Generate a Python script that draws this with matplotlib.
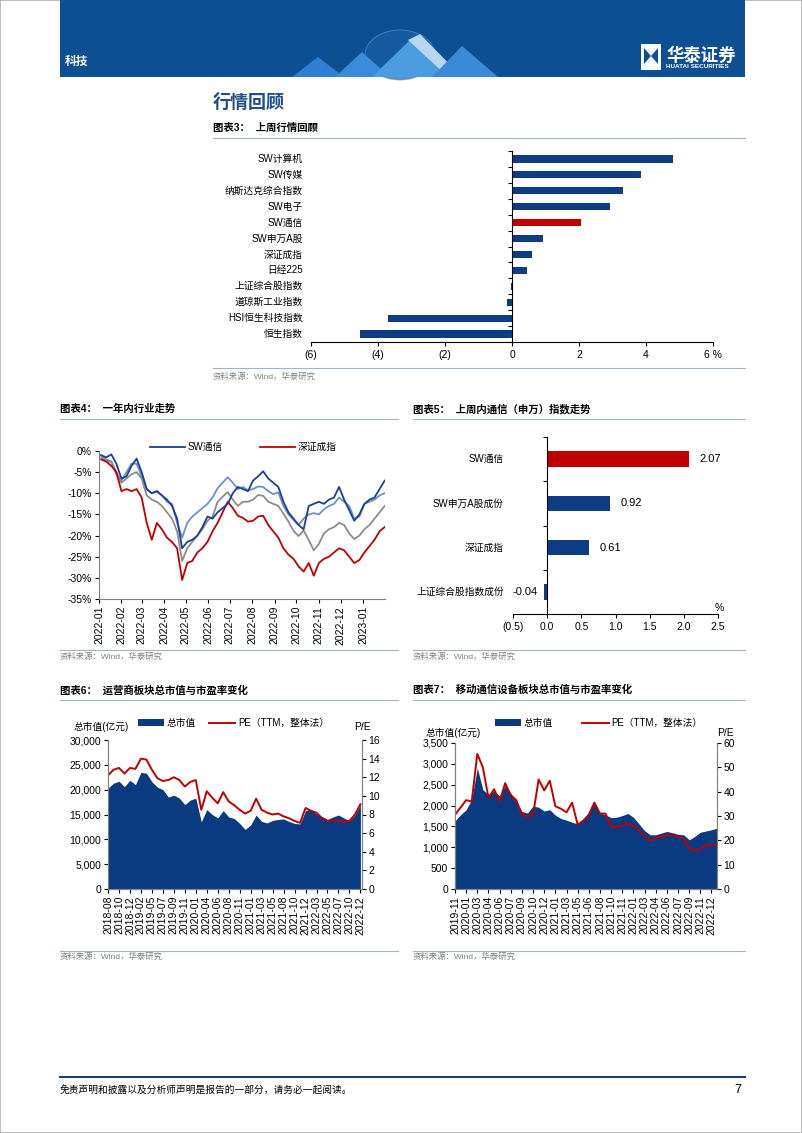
import numpy as np
import pandas as pd
import matplotlib
matplotlib.use('Agg')
import matplotlib.pyplot as plt
import matplotlib.dates as mdates
from matplotlib.patches import Rectangle, Polygon, Ellipse, Patch
from matplotlib.lines import Line2D
from matplotlib.ticker import FuncFormatter

plt.rcParams['font.family'] = ['Liberation Sans', 'Noto Sans CJK SC']
plt.rcParams['axes.unicode_minus'] = False

# ---------------- data ----------------
# chart 3: last week review (%)
c3_names = ['SW计算机', 'SW传媒', '纳斯达克综合指数', 'SW电子', 'SW通信', 'SW申万A股',
            '深证成指', '日经225', '上证综合股指数', '道琼斯工业指数', 'HSI恒生科技指数', '恒生指数']
c3_values = [4.82, 3.86, 3.32, 2.94, 2.07, 0.92, 0.61, 0.46, -0.04, -0.14, -3.71, -4.53]

# chart 4: one-year trend, weekly (%)
c4_dates = pd.date_range('2022-01-04', periods=57, freq='7D')
c4_swtx = [-1.0, -1.5, -0.8, -3.0, -6.5, -6.0, -3.5, -1.8, -5.0, -9.0,
           -10.0, -9.5, -10.5, -11.5, -13.0, -16.0, -23.0, -21.5, -21.0, -20.0,
           -18.0, -15.5, -16.0, -14.5, -13.5, -12.5, -10.0, -8.5, -9.0, -9.5,
           -7.0, -6.0, -4.8, -6.5, -7.5, -8.5, -12.0, -14.5, -16.0, -17.5,
           -18.5, -13.0, -12.5, -12.0, -12.5, -11.5, -11.0, -8.5, -11.5, -14.0,
           -16.5, -15.0, -12.5, -11.5, -11.0, -9.0, -7.0]
c4_light = [-1.0, -2.0, -2.5, -5.5, -7.0, -5.0, -3.0, -3.0, -6.0, -9.0,
            -10.0, -9.5, -10.5, -12.0, -12.5, -17.0, -20.5, -17.0, -15.5, -14.5,
            -13.5, -12.5, -11.0, -8.8, -7.5, -6.2, -7.5, -9.0, -8.5, -9.3,
            -9.0, -8.4, -8.5, -9.5, -10.2, -9.8, -13.0, -15.0, -16.3, -17.5,
            -16.0, -15.0, -14.7, -15.0, -13.8, -13.0, -12.5, -11.0, -12.0, -13.0,
            -16.0, -15.5, -12.5, -12.0, -11.5, -10.5, -10.0]
c4_gray = [-1.5, -2.5, -2.5, -5.0, -7.5, -6.5, -5.5, -5.0, -6.5, -10.5,
           -11.5, -12.0, -13.0, -14.5, -16.0, -19.0, -26.0, -23.0, -21.5, -20.0,
           -18.5, -16.5, -15.5, -12.0, -10.8, -9.7, -11.5, -13.0, -12.0, -12.0,
           -11.5, -10.4, -10.6, -12.0, -12.5, -13.0, -14.8, -16.7, -18.9, -20.1,
           -18.8, -21.0, -23.5, -22.0, -19.5, -18.5, -18.0, -17.0, -17.5, -19.5,
           -20.8, -20.0, -18.5, -17.5, -16.0, -14.5, -13.0]
c4_szcz = [-2.0, -2.5, -3.5, -5.0, -9.5, -9.0, -9.5, -9.0, -11.0, -17.0,
           -21.0, -17.0, -18.5, -20.5, -21.5, -23.0, -30.5, -26.5, -26.0, -24.0,
           -23.0, -21.5, -19.0, -17.0, -14.5, -12.0, -13.5, -15.3, -15.8, -16.7,
           -16.5, -15.5, -15.3, -17.5, -19.0, -20.5, -23.0, -24.5, -25.5, -27.3,
           -28.5, -26.5, -29.5, -26.5, -25.5, -25.0, -24.0, -23.0, -23.5, -25.0,
           -26.5, -25.8, -24.0, -22.5, -21.0, -19.0, -18.0]

# chart 5: SW telecom last week (%)
c5_names = ['SW通信', 'SW申万A股成份', '深证成指', '上证综合股指数成份']
c5_values = [2.07, 0.92, 0.61, -0.04]

# chart 6: operators, market cap (100m CNY) and PE, sampled every half label step
c6_ticks = ['2018-08', '2018-10', '2018-12', '2019-02', '2019-05', '2019-07', '2019-09', '2019-11',
            '2020-01', '2020-04', '2020-06', '2020-08', '2020-11', '2021-01', '2021-03', '2021-05',
            '2021-08', '2021-10', '2021-12', '2022-03', '2022-05', '2022-07', '2022-10', '2022-12']
c6_mv = [20300, 21300, 21700, 20600, 21900, 21000, 23500, 23300, 21600, 20500,
         20000, 18500, 18900, 18300, 17000, 17900, 18300, 13500, 16000, 15000,
         14300, 15800, 14500, 14200, 13200, 12000, 12900, 14900, 13600, 13300,
         13800, 14000, 14100, 13600, 13200, 13100, 15800, 16000, 15100, 14600,
         14000, 14500, 14900, 14300, 13700, 14900, 17000]
c6_pe = [12.2, 12.8, 13.0, 12.4, 13.0, 12.9, 14.0, 13.9, 12.8, 11.9,
         11.6, 11.7, 12.0, 11.7, 11.0, 11.5, 11.7, 8.5, 10.5, 9.8,
         9.2, 10.4, 9.4, 9.0, 8.5, 8.1, 8.4, 9.7, 8.5, 8.2,
         8.0, 8.1, 7.8, 7.6, 7.3, 7.1, 8.7, 8.4, 8.2, 7.6,
         7.3, 7.4, 7.3, 7.2, 7.3, 8.0, 9.1]

# chart 7: mobile telecom equipment, market cap and PE
c7_ticks = ['2019-11', '2020-01', '2020-03', '2020-04', '2020-06', '2020-07', '2020-09', '2020-10',
            '2020-12', '2021-01', '2021-03', '2021-05', '2021-06', '2021-08', '2021-10', '2021-11',
            '2022-01', '2022-03', '2022-04', '2022-06', '2022-07', '2022-09', '2022-11', '2022-12']
c7_mv = [1630, 1780, 1900, 2150, 2900, 2380, 2270, 2350, 2230, 2480,
         2300, 2100, 1860, 1820, 1990, 1960, 1870, 1900, 1770, 1690,
         1650, 1600, 1560, 1680, 1840, 2080, 1820, 1780, 1710, 1720,
         1760, 1810, 1720, 1560, 1400, 1300, 1300, 1340, 1380, 1350,
         1310, 1300, 1180, 1260, 1360, 1390, 1420, 1460]
c7_pe = [30.5, 33.5, 36.5, 36.0, 55.5, 50.0, 37.5, 41.0, 36.0, 43.5,
         38.5, 36.5, 30.5, 29.8, 30.5, 45.0, 40.5, 44.5, 34.0, 33.0,
         31.5, 35.5, 26.5, 28.0, 30.5, 35.5, 31.0, 31.0, 25.5, 25.5,
         26.0, 27.0, 26.0, 24.0, 22.0, 19.8, 20.8, 21.6, 22.2, 22.0,
         21.5, 20.8, 16.5, 15.8, 16.5, 17.8, 18.2, 18.4]

NAVY = '#0d3c85'
RED = '#c00000'
LINE = '#9fb3cc'
GREY_TXT = '#808080'

W, H = 802, 1133
fig = plt.figure(figsize=(W / 100, H / 100), dpi=100)


def box(x0, y0, x1, y1):
    return [x0 / W, 1 - y1 / H, (x1 - x0) / W, (y1 - y0) / H]


def ftext(x, y, s, **kw):
    kw.setdefault('va', 'center')
    fig.text(x / W, 1 - y / H, s, **kw)


def hline(x0, x1, y, color=LINE, lw=0.8):
    fig.add_artist(Line2D([x0 / W, x1 / W], [1 - y / H, 1 - y / H], color=color, lw=lw,
                          transform=fig.transFigure))


def fpoly(pts, **kw):
    fig.add_artist(Polygon([(x / W, 1 - y / H) for x, y in pts], closed=True,
                           transform=fig.transFigure, **kw))


# ---------------- page decoration ----------------
fig.add_artist(Rectangle((0, 0), 1, 1, transform=fig.transFigure, fill=False,
                         edgecolor='#b0b0b0', lw=1.2))
fig.add_artist(Rectangle((60 / W, 1 - 77 / H), 685 / W, 77 / H, transform=fig.transFigure,
                         facecolor='#0c4f93', edgecolor='none'))
fig.add_artist(Ellipse((400 / W, 1 - 55 / H), 70 / W, 50 / H, transform=fig.transFigure,
                       facecolor='#1b5fa6', edgecolor='#5d9ad6', lw=0.6, alpha=0.7))
fpoly([(292, 77), (318, 57), (344, 77)], facecolor='#2f80d0', edgecolor='none')
fpoly([(335, 77), (362, 52), (390, 77)], facecolor='#3b8cd8', edgecolor='none')
fpoly([(372, 77), (410, 40), (448, 77)], facecolor='#4c9ce0', edgecolor='none')
fpoly([(408, 40), (420, 34), (462, 77), (448, 77)], facecolor='#b8d6f2', edgecolor='none')
fpoly([(432, 77), (462, 46), (498, 77)], facecolor='#3a8ad6', edgecolor='none')
ftext(65, 62, '科技', color='white', fontsize=8.5, fontweight='bold')
fig.add_artist(Rectangle((641 / W, 1 - 70 / H), 20 / W, 26 / H, transform=fig.transFigure,
                         facecolor='white', edgecolor='none'))
fpoly([(644, 48), (651, 56), (644, 64)], facecolor='#0c4f93', edgecolor='none')
fpoly([(658, 48), (651, 56), (658, 64)], facecolor='#0c4f93', edgecolor='none')
ftext(666, 55, '华泰证券', color='white', fontsize=12.5, fontweight='bold')
ftext(666, 67, 'HUATAI SECURITIES', color='white', fontsize=4.6, fontweight='bold')

ftext(213, 103, '行情回顾', color='#1f4e8c', fontsize=13, fontweight='bold')

# ---------------- chart 3 ----------------
ftext(213, 128, '图表3：  上周行情回顾', fontsize=7.5, fontweight='bold')
hline(213, 745, 138)
ax3 = fig.add_axes(box(311, 151, 713, 342))
y3 = np.arange(len(c3_names))
ax3.barh(y3, c3_values, height=0.45,
         color=[RED if n == 'SW通信' else NAVY for n in c3_names])
ax3.set_xlim(-6, 6)
ax3.set_ylim(11.5, -0.5)
ax3.spines['left'].set_position(('data', 0))
ax3.spines['top'].set_visible(False)
ax3.spines['right'].set_visible(False)
ax3.set_yticks(np.arange(-0.5, 12, 1))
ax3.tick_params(axis='y', length=3, direction='out', labelleft=False)
ax3.set_xticks([-6, -4, -2, 0, 2, 4, 6])
ax3.set_xticklabels(['(6)', '(4)', '(2)', '0', '2', '4', '6 %'])
ax3.tick_params(axis='x', length=3, direction='out', labelsize=7.5, pad=3)
for i, n in enumerate(c3_names):
    ax3.text(-8 / 402, i, n, transform=ax3.get_yaxis_transform(), ha='right', va='center',
             fontsize=7)
hline(213, 745, 368)
ftext(213, 377, '资料来源：Wind，华泰研究', color=GREY_TXT, fontsize=6)

# ---------------- chart 4 ----------------
ftext(60, 409, '图表4：  一年内行业走势', fontsize=7.5, fontweight='bold')
hline(60, 398, 419)
ax4 = fig.add_axes(box(99, 451, 385, 599))
ax4.plot(c4_dates, c4_light, color='#6f8fca', lw=1.3)
ax4.plot(c4_dates, c4_gray, color='#8c8c8c', lw=1.3)
ax4.plot(c4_dates, c4_szcz, color=RED, lw=1.3)
ax4.plot(c4_dates, c4_swtx, color='#1c3f94', lw=1.3)
ax4.set_xlim(pd.Timestamp('2022-01-01'), pd.Timestamp('2023-01-31 12:00'))
ax4.set_ylim(-35, 0)
ax4.set_yticks(np.arange(-35, 1, 5))
ax4.yaxis.set_major_formatter(FuncFormatter(lambda v, p: f'{v:.0f}%'))
ax4.xaxis.set_major_locator(mdates.MonthLocator())
ax4.xaxis.set_major_formatter(mdates.DateFormatter('%Y-%m'))
ax4.tick_params(axis='x', rotation=90, labelsize=7.5, length=3, pad=2)
ax4.tick_params(axis='y', labelsize=7.5, length=3, pad=2)
for s in ['top', 'right']:
    ax4.spines[s].set_visible(False)
for s in ['left', 'bottom']:
    ax4.spines[s].set_color('#808080')
fig.legend([Line2D([], [], color='#1c3f94', lw=1.3), Line2D([], [], color=RED, lw=1.3)],
           ['SW通信', '深证成指'], loc='center left', bbox_to_anchor=(145 / W, 1 - 447 / H),
           ncol=2, frameon=False, fontsize=7, borderpad=0, handlelength=3.6,
           handletextpad=0.3, columnspacing=3.8)
hline(60, 398, 650)
ftext(60, 657, '资料来源：Wind，华泰研究', color=GREY_TXT, fontsize=6)

# ---------------- chart 5 ----------------
ftext(413, 409, '图表5：  上周内通信（申万）指数走势', fontsize=7.5, fontweight='bold')
hline(413, 745, 419)
ax5 = fig.add_axes(box(513, 437, 718, 614))
y5 = np.arange(len(c5_names))
ax5.barh(y5, c5_values, height=0.35,
         color=[RED if n == 'SW通信' else NAVY for n in c5_names])
ax5.set_xlim(-0.5, 2.5)
ax5.set_ylim(3.5, -0.5)
ax5.spines['left'].set_position(('data', 0))
ax5.spines['top'].set_visible(False)
ax5.spines['right'].set_visible(False)
ax5.set_yticks(np.arange(-0.5, 3, 1))
ax5.tick_params(axis='y', length=3, direction='out', labelleft=False)
ax5.set_xticks(np.arange(-0.5, 2.6, 0.5))
ax5.set_xticklabels(['(0.5)', '0.0', '0.5', '1.0', '1.5', '2.0', '2.5'])
ax5.tick_params(axis='x', length=3, direction='out', labelsize=7.5, pad=3)
for i, (n, v) in enumerate(zip(c5_names, c5_values)):
    ax5.text(-9 / 205, i, n, transform=ax5.get_yaxis_transform(), ha='right', va='center',
             fontsize=7)
    if v >= 0:
        ax5.text(v + 0.16, i, f'{v:.2f}', ha='left', va='center', fontsize=8)
    else:
        ax5.text(v - 0.1, i, f'{v:.2f}', ha='right', va='center', fontsize=8)
ftext(719, 608, '%', fontsize=7.5, ha='center')
hline(413, 745, 650)
ftext(413, 657, '资料来源：Wind，华泰研究', color=GREY_TXT, fontsize=6)


# ---------------- charts 6 / 7 ----------------
def cap_pe_chart(rect, mv, pe, ticks, mv_max, mv_step, pe_max, pe_step, xmax):
    ax = fig.add_axes(rect)
    x = np.arange(len(mv)) * 0.5
    ax.fill_between(x, 0, mv, color='#0a3a80', lw=0)
    ax.set_xlim(0, xmax)
    ax.set_ylim(0, mv_max)
    ax.set_yticks(np.arange(0, mv_max + 1, mv_step))
    ax.yaxis.set_major_formatter(FuncFormatter(lambda v, p: f'{v:,.0f}'))
    ax.set_xticks(np.arange(len(ticks)))
    ax.set_xticklabels(ticks, rotation=90)
    ax.tick_params(axis='both', labelsize=7.5, length=3, pad=2)
    ax.spines['top'].set_visible(False)
    axr = ax.twinx()
    axr.plot(x, pe, color=RED, lw=1.4)
    axr.set_ylim(0, pe_max)
    axr.set_yticks(np.arange(0, pe_max + 1, pe_step))
    axr.tick_params(axis='y', labelsize=7.5, length=3, pad=2)
    axr.spines['top'].set_visible(False)
    for a in (ax, axr):
        for s in a.spines.values():
            s.set_color('#808080')
    return ax


def cap_pe_legend(x, y, spacing):
    fig.legend([Patch(facecolor='#0a3a80', edgecolor='none'), Line2D([], [], color=RED, lw=1.4)],
               ['总市值', 'PE（TTM，整体法）'], loc='center left',
               bbox_to_anchor=(x / W, 1 - y / H), ncol=2, frameon=False, fontsize=7,
               borderpad=0, handlelength=2.7, handleheight=0.6, handletextpad=0.3,
               columnspacing=spacing)


ftext(60, 690, '图表6：  运营商板块总市值与市盈率变化', fontsize=7.5, fontweight='bold')
hline(60, 398, 700)
cap_pe_chart(box(108, 740, 361.5, 889), c6_mv, c6_pe, c6_ticks, 30000, 5000, 16, 2, 23.1)
cap_pe_legend(133, 723, 1.3)
ftext(74, 727, '总市值(亿元)', fontsize=7, ha='left')
ftext(362, 727, 'P/E', fontsize=7.5, ha='center')
hline(60, 398, 951)
ftext(60, 957, '资料来源：Wind，华泰研究', color=GREY_TXT, fontsize=6)

ftext(413, 690, '图表7：  移动通信设备板块总市值与市盈率变化', fontsize=7.5, fontweight='bold')
hline(413, 745, 700)
cap_pe_chart(box(455, 743, 716.5, 889), c7_mv, c7_pe, c7_ticks, 3500, 500, 60, 10, 23.45)
cap_pe_legend(490, 723, 3.0)
ftext(426, 733, '总市值(亿元)', fontsize=7, ha='left')
ftext(725, 733, 'P/E', fontsize=7.5, ha='center')
hline(413, 745, 951)
ftext(413, 957, '资料来源：Wind，华泰研究', color=GREY_TXT, fontsize=6)

# ---------------- footer ----------------
hline(60, 745, 1077, color='#1f3c78', lw=1.5)
ftext(60, 1090, '免责声明和披露以及分析师声明是报告的一部分，请务必一起阅读。', fontsize=7,
      style='italic')
ftext(741, 1090, '7', fontsize=9, ha='right')

fig.savefig('out.png', dpi=100)
